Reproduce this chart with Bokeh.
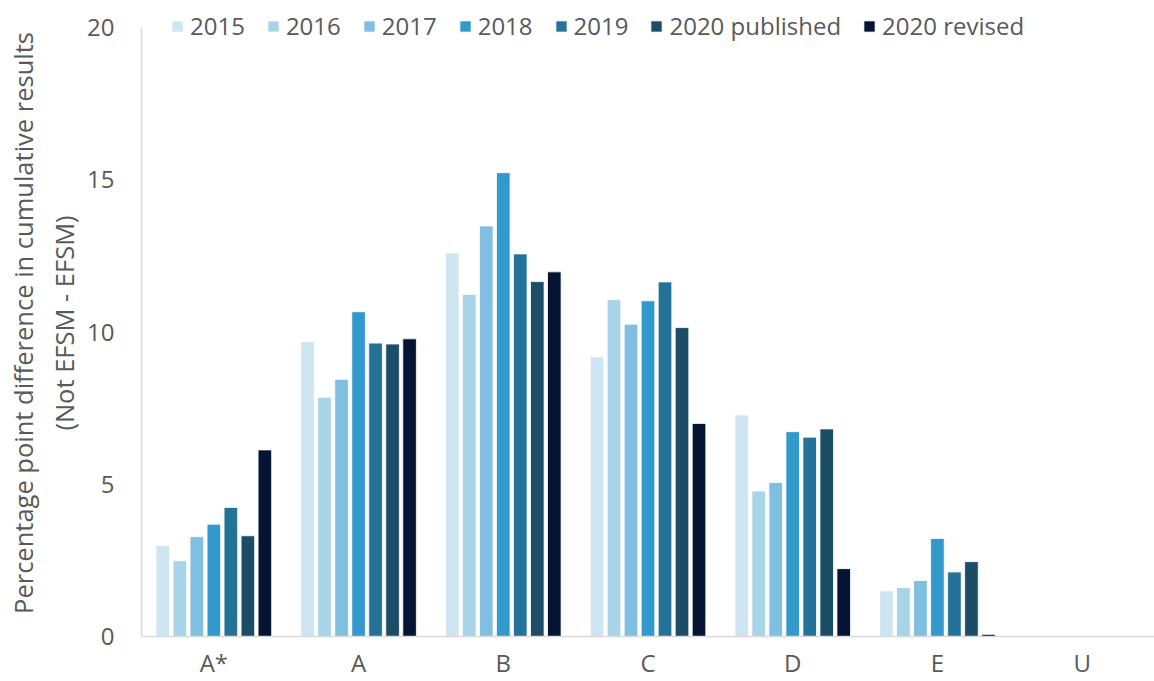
from bokeh.plotting import figure
from bokeh.models import FactorRange, Legend, LegendItem, ColumnDataSource, Range1d, FixedTicker
from bokeh.transform import dodge
from bokeh.embed import file_html
from bokeh.resources import INLINE

grades = ["A*", "A", "B", "C", "D", "E", "U"]
series = ["2015", "2016", "2017", "2018", "2019", "2020 published", "2020 revised"]
v2015 = [2.99, 9.69, 12.60, 9.19, 7.28, 1.50, 0.0]
v2016 = [2.49, 7.86, 11.24, 11.07, 4.78, 1.61, 0.0]
v2017 = [3.28, 8.45, 13.49, 10.26, 5.06, 1.84, 0.0]
v2018 = [3.69, 10.67, 15.24, 11.03, 6.73, 3.22, 0.0]
v2019 = [4.24, 9.64, 12.57, 11.65, 6.55, 2.12, 0.0]
v2020p = [3.31, 9.61, 11.66, 10.15, 6.82, 2.46, 0.0]
v2020r = [6.13, 9.78, 11.98, 7.00, 2.23, 0.07, 0.0]
values = [v2015, v2016, v2017, v2018, v2019, v2020p, v2020r]
colors = ["#cfe5f2", "#a8d4e8", "#80bfdf", "#3399cc", "#247298", "#1b4d66", "#041432"]
y_ticks = [0, 5, 10, 15, 20]
y_title = "Percentage point difference in cumulative results\n(Not EFSM - EFSM)"

FONT = "Open Sans"
TXT = "#595959"

data = {"grade": grades}
for i, v in enumerate(values):
    data["s%d" % i] = v
src = ColumnDataSource(data)

# frame extends a little above 20 so the legend row fits inside it
p = figure(x_range=FactorRange(*grades, range_padding=0), y_range=Range1d(0, 20.6),
           width=1154, height=681, output_backend="svg", toolbar_location=None,
           min_border_left=141, min_border_right=0, min_border_top=9, min_border_bottom=44)
p.outline_line_color = None
p.xgrid.grid_line_color = None
p.ygrid.grid_line_color = None

step = 0.1175
items = []
for i, name in enumerate(series):
    r = p.vbar(x=dodge("grade", (i - 3) * step, range=p.x_range), top="s%d" % i, width=0.094,
               source=src, fill_color=colors[i], line_color="white", line_width=0.8)
    items.append(LegendItem(label=name, renderers=[r]))

legend = Legend(items=items, orientation="horizontal", location=(29, 594),
                label_text_font=FONT, label_text_font_size="24px", label_text_color=TXT,
                glyph_width=14, glyph_height=14, label_standoff=6, spacing=21,
                padding=0, margin=0, border_line_color=None, background_fill_alpha=0,
                label_height=24)
p.add_layout(legend, "center")

p.yaxis.ticker = FixedTicker(ticks=y_ticks)
p.yaxis.bounds = (0, 20)
p.yaxis.axis_line_color = "#d9d9d9"
p.yaxis.axis_line_width = 1.5
p.yaxis.major_tick_line_color = None
p.yaxis.minor_tick_line_color = None
p.yaxis.major_label_text_font = FONT
p.yaxis.major_label_text_font_size = "24px"
p.yaxis.major_label_text_color = TXT
p.yaxis.major_label_standoff = 21
p.yaxis.axis_label = y_title
p.yaxis.axis_label_text_font = FONT
p.yaxis.axis_label_text_font_size = "25.5px"
p.yaxis.axis_label_text_font_style = "normal"
p.yaxis.axis_label_text_color = TXT
p.yaxis.axis_label_standoff = 3

p.xaxis.axis_line_color = "#d9d9d9"
p.xaxis.axis_line_width = 1.5
p.xaxis.major_tick_line_color = None
p.xaxis.minor_tick_line_color = None
p.xaxis.major_label_text_font = FONT
p.xaxis.major_label_text_font_size = "24px"
p.xaxis.major_label_text_color = TXT
p.xaxis.major_label_standoff = 3

open("out.html", "w").write(file_html(p, INLINE))
